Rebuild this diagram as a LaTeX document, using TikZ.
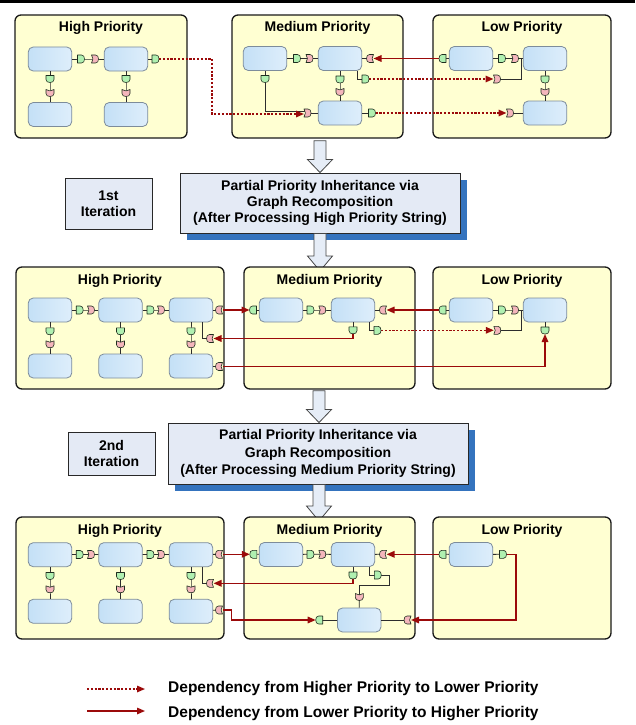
\documentclass[tikz,border=0pt]{standalone}
\usepackage{fontspec}
\setmainfont{Liberation Sans}
\usetikzlibrary{arrows.meta,calc,shadows}
\pgfdeclarelayer{ports}
\pgfsetlayers{main,ports}
\definecolor{panelfill}{RGB}{255,255,210}
\definecolor{panelborder}{RGB}{25,25,25}
\definecolor{taskL}{RGB}{196,224,246}
\definecolor{taskR}{RGB}{222,238,251}
\definecolor{taskborder}{RGB}{125,140,155}
\definecolor{gfill}{RGB}{176,240,176}
\definecolor{pfill}{RGB}{244,182,188}
\definecolor{portborder}{RGB}{30,45,30}
\definecolor{wirecol}{RGB}{45,45,45}
\definecolor{depred}{RGB}{155,10,10}
\definecolor{procfill}{RGB}{228,234,245}
\definecolor{procborder}{RGB}{40,40,40}
\definecolor{shadowblue}{RGB}{52,115,190}
\definecolor{arrowfill}{RGB}{230,237,247}
\definecolor{arrowborder}{RGB}{70,70,70}
\tikzset{
  gsty/.style={draw=portborder, fill=gfill, line width=0.6pt, line join=round},
  psty/.style={draw=portborder, fill=pfill, line width=0.6pt, line join=round},
  gR/.pic={\path[gsty] (-3.5pt,4pt) -- (0.5pt,4pt) .. controls (2.6pt,4pt) and (3.5pt,2.2pt) .. (3.5pt,0pt) .. controls (3.5pt,-2.2pt) and (2.6pt,-4pt) .. (0.5pt,-4pt) -- (-3.5pt,-4pt) -- cycle;},
  gL/.pic={\path[gsty,xscale=-1] (-3.5pt,4pt) -- (0.5pt,4pt) .. controls (2.6pt,4pt) and (3.5pt,2.2pt) .. (3.5pt,0pt) .. controls (3.5pt,-2.2pt) and (2.6pt,-4pt) .. (0.5pt,-4pt) -- (-3.5pt,-4pt) -- cycle;},
  gD/.pic={\path[gsty] (-4pt,3.5pt) -- (-4pt,-0.5pt) .. controls (-4pt,-2.6pt) and (-2.2pt,-3.5pt) .. (0pt,-3.5pt) .. controls (2.2pt,-3.5pt) and (4pt,-2.6pt) .. (4pt,-0.5pt) -- (4pt,3.5pt) -- cycle;},
  pR/.pic={\path[psty] (-3.5pt,4pt) -- (0.5pt,4pt) .. controls (2.6pt,4pt) and (3.5pt,2.2pt) .. (3.5pt,0pt) .. controls (3.5pt,-2.2pt) and (2.6pt,-4pt) .. (0.5pt,-4pt) -- (-3.5pt,-4pt) .. controls (-1.6pt,-1.8pt) and (-1.6pt,1.8pt) .. (-3.5pt,4pt) -- cycle;},
  pL/.pic={\path[psty,xscale=-1] (-3.5pt,4pt) -- (0.5pt,4pt) .. controls (2.6pt,4pt) and (3.5pt,2.2pt) .. (3.5pt,0pt) .. controls (3.5pt,-2.2pt) and (2.6pt,-4pt) .. (0.5pt,-4pt) -- (-3.5pt,-4pt) .. controls (-1.6pt,-1.8pt) and (-1.6pt,1.8pt) .. (-3.5pt,4pt) -- cycle;},
  pD/.pic={\path[psty] (4pt,3.5pt) -- (4pt,-0.5pt) .. controls (4pt,-2.6pt) and (2.2pt,-3.5pt) .. (0pt,-3.5pt) .. controls (-2.2pt,-3.5pt) and (-4pt,-2.6pt) .. (-4pt,-0.5pt) -- (-4pt,3.5pt) .. controls (-1.8pt,1.6pt) and (1.8pt,1.6pt) .. (4pt,3.5pt) -- cycle;},
  hp/.style={inner sep=0pt, outer sep=0pt, minimum width=7pt, minimum height=8pt},
  vp/.style={inner sep=0pt, outer sep=0pt, minimum width=8pt, minimum height=7pt},
  panel/.style={draw=panelborder, line width=1.3pt, fill=panelfill, rounded corners=6pt, inner sep=0pt},
  ptitle/.style={font=\bfseries\fontsize{14}{16}\selectfont, anchor=base, inner sep=0pt},
  task/.style={draw=taskborder, line width=0.8pt, rounded corners=5pt, left color=taskL, right color=taskR, minimum width=43.5pt, minimum height=24pt, inner sep=0pt},
  wire/.style={draw=wirecol, line width=0.8pt},
  dep/.style={draw=depred, line width=1.5pt, -{Triangle[length=8pt,width=6.5pt]}},
  depdot/.style={dep, dash pattern=on 2.2pt off 1.6pt},
  proc/.style={draw=procborder, line width=0.9pt, fill=procfill, align=center, inner sep=0pt,
     drop shadow={shadow xshift=7pt, shadow yshift=-7pt, fill=shadowblue, opacity=1}},
  iter/.style={draw=procborder, line width=0.9pt, fill=procfill, align=center, inner sep=0pt,
     font=\bfseries\fontsize{14}{16}\selectfont},
  bigarrow/.style={draw=arrowborder, fill=arrowfill, line width=0.8pt, line join=miter},
  legtext/.style={font=\bfseries\fontsize{15.5}{18}\selectfont, inner sep=0pt, anchor=base west},
}
\newcommand{\hport}[3]{\node[hp] (#1) at (#2) {};\begin{pgfonlayer}{ports}\pic at (#1) {#3};\end{pgfonlayer}}
\newcommand{\vport}[3]{\node[vp] (#1) at (#2) {};\begin{pgfonlayer}{ports}\pic at (#1) {#3};\end{pgfonlayer}}
\begin{document}
\begin{tikzpicture}[x=1pt,y=-1pt]
\useasboundingbox (0,0) rectangle (635,725);
\fill[black] (0,0) rectangle (635,3);

% ================= Row 1 =================
\node[panel, minimum width=172pt, minimum height=123pt] (H1) at (101,76.5) {};
\node[panel, minimum width=171pt, minimum height=123pt] (M1) at (317.5,76.5) {};
\node[panel, minimum width=178pt, minimum height=123pt] (L1) at (522,76.5) {};
\node[ptitle] (H1t) at (101,31.7) {High Priority};
\node[ptitle] (M1t) at (317.5,31.7) {Medium Priority};
\node[ptitle] (L1t) at (522,31.7) {Low Priority};

\node[task] (H1a) at (50,59) {};
\node[task] (H1b) at (126,59) {};
\node[task] (H1c) at (50,114.5) {};
\node[task] (H1d) at (126,114.5) {};
\node[task] (M1a) at (265,58.5) {};
\node[task] (M1b) at (340,58.5) {};
\node[task] (M1c) at (340,113) {};
\node[task] (L1a) at (471,58.5) {};
\node[task] (L1b) at (545,58.5) {};
\node[task] (L1c) at (545,113) {};

\hport{h1g1}{81,59}{gR} \hport{h1p1}{95,59}{pR}
\vport{h1g2}{50,79}{gD} \vport{h1p2}{50,93}{pD}
\vport{h1g3}{126,79}{gD} \vport{h1p3}{126,93}{pD}
\hport{h1g4}{155.5,59}{gR}

\hport{m1g1}{297,58.5}{gR} \hport{m1p1}{309.5,58.5}{pR}
\vport{m1g2}{265,79}{gD}
\vport{m1g3}{340,79.5}{gD} \vport{m1p3}{340,92}{pD}
\hport{m1p4}{370,58.5}{pL}
\hport{m1g5}{365.5,79}{gR}
\hport{m1p6}{307.5,113}{pR}
\hport{m1g7}{372,113}{gR}

\hport{l1g1}{442.5,58.5}{gL}
\hport{l1g2}{502,58.5}{gR} \hport{l1p2}{515,58.5}{pR}
\hport{l1p3}{497,79}{pR}
\vport{l1g4}{545,79.5}{gD} \vport{l1p4}{545,92}{pD}
\hport{l1p5}{510,113}{pR}

\draw[wire] (H1a) -- (h1g1.center) -- (h1p1.center) -- (H1b);
\draw[wire] (H1a) -- (h1g2.center) -- (h1p2.center) -- (H1c);
\draw[wire] (H1b) -- (h1g3.center) -- (h1p3.center) -- (H1d);
\draw[wire] (H1b) -- (h1g4.center);
\draw[wire] (M1a) -- (m1g1.center) -- (m1p1.center) -- (M1b);
\draw[wire] (M1a) -- (m1g2.center);
\draw[wire] (m1g2.center) |- ($(m1p6.center)+(0,-1.5)$);
\draw[wire] (M1b) -- (m1g3.center) -- (m1p3.center) -- (M1c);
\draw[wire] (M1b) -- (m1p4.center);
\draw[wire] ($(M1b.south east)+(-4.5,0)$) |- (m1g5.center);
\draw[wire] (m1p6.center) -- (M1c);
\draw[wire] (M1c) -- (m1g7.center);
\draw[wire] (L1a) -- (l1g1.center);
\draw[wire] (L1a) -- (l1g2.center) -- (l1p2.center) -- (L1b);
\draw[wire] (l1p3.center) -| ($(L1b.west)+(-1.75,0)$);
\draw[wire] (L1b) -- (l1g4.center) -- (l1p4.center) -- (L1c);
\draw[wire] (l1p5.center) -- (L1c);

\draw[depdot] (h1g4.east) -- ++(53,0) |- ($(m1p6.west)+(0,1)$);
\draw[dep] (l1g1.west) -- (m1p4.east);
\draw[depdot] (m1g5.east) -- (l1p3.west);
\draw[depdot] (m1g7.east) -- (l1p5.west);

% ================= Process 1 =================
\node[proc, minimum width=280pt, minimum height=60pt, font=\bfseries\fontsize{14}{16.4}\selectfont] (P1) at (320,203) {Partial Priority Inheritance via\\Graph Recomposition\\(After Processing High Priority String)};
\node[iter, minimum width=87pt, minimum height=51pt] (I1) at (108.5,203.5) {1st\\Iteration};
\draw[bigarrow] ($(P1.north |- M1.south)+(-6,2)$) -- ++(12,0) -- ($(P1.north)+(6,-13)$) -- ++(6.5,0) -- (P1.north) -- ($(P1.north)+(-12.5,-13)$) -- ++(6.5,0) -- cycle;
\coordinate (a2) at (320,271);
\draw[bigarrow] ($(P1.south)+(-6,0)$) -- ++(12,0) -- ($(a2)+(6,-15)$) -- ++(6.5,0) -- (a2) -- ($(a2)+(-12.5,-15)$) -- ++(6.5,0) -- cycle;

% ================= Row 2 =================
\node[panel, minimum width=208pt, minimum height=122pt] (H2) at (120,328) {};
\node[panel, minimum width=171pt, minimum height=122pt] (M2) at (329.5,328) {};
\node[panel, minimum width=178pt, minimum height=122pt] (L2) at (522,328) {};
\node[ptitle] (H2t) at (120,284) {High Priority};
\node[ptitle] (M2t) at (329.5,284) {Medium Priority};
\node[ptitle] (L2t) at (522,284) {Low Priority};

\node[task] (H2a) at (50,310) {};
\node[task] (H2b) at (120.5,310) {};
\node[task] (H2c) at (191,310) {};
\node[task] (H2d) at (50,366) {};
\node[task] (H2e) at (120.5,366) {};
\node[task] (H2f) at (191,366) {};
\node[task] (M2a) at (281,310) {};
\node[task] (M2b) at (353,310) {};
\node[task] (L2a) at (471,310) {};
\node[task] (L2b) at (545,310) {};

\hport{h2g1}{79.7,310}{gR} \hport{h2p1}{91,310}{pR}
\hport{h2g2}{150.5,310}{gR} \hport{h2p2}{161,310}{pR}
\vport{h2g3}{50,331.3}{gD} \vport{h2p3}{50,344.3}{pD}
\vport{h2g4}{120.5,331.3}{gD} \vport{h2p4}{120.5,344.3}{pD}
\vport{h2g5}{191,331.3}{gD} \vport{h2p5}{191,344.3}{pD}
\hport{h2p6}{219,310}{pL}
\hport{h2p7}{210,338.5}{pL}
\hport{h2p8}{219,366.5}{pL}

\hport{m2g1}{253,310}{gL}
\hport{m2g2}{310.5,310}{gR} \hport{m2p2}{322.3,310}{pR}
\hport{m2p3}{383,310}{pL}
\vport{m2g4}{353,330.3}{gD}
\hport{m2g5}{377.5,330.3}{gR}

\hport{l2g1}{442.5,310}{gL}
\hport{l2g2}{502,310}{gR} \hport{l2p2}{515,310}{pR}
\hport{l2p3}{497.3,330.3}{pR}
\vport{l2g4}{545,330.5}{gD}

\draw[wire] (H2a) -- (h2g1.center) -- (h2p1.center) -- (H2b);
\draw[wire] (H2b) -- (h2g2.center) -- (h2p2.center) -- (H2c);
\draw[wire] (H2a) -- (h2g3.center) -- (h2p3.center) -- (H2d);
\draw[wire] (H2b) -- (h2g4.center) -- (h2p4.center) -- (H2e);
\draw[wire] (H2c) -- (h2g5.center) -- (h2p5.center) -- (H2f);
\draw[wire] (H2c) -- (h2p6.center);
\draw[wire] ($(H2c.south east)+(-11,0)$) |- (h2p7.center);
\draw[wire] (H2f) -- (h2p8.center);
\draw[wire] (M2a) -- (m2g1.center);
\draw[wire] (M2a) -- (m2g2.center) -- (m2p2.center) -- (M2b);
\draw[wire] (M2b) -- (m2p3.center);
\draw[wire] (M2b) -- (m2g4.center);
\draw[wire] ($(M2b.south east)+(-5.75,0)$) |- (m2g5.center);
\draw[wire] (L2a) -- (l2g1.center);
\draw[wire] (L2a) -- (l2g2.center) -- (l2p2.center) -- (L2b);
\draw[wire] (l2p3.center) -| ($(L2b.west)+(-1.75,0)$);
\draw[wire] (L2b) -- (l2g4.center);

\draw[dep] (h2p6.east) -- (m2g1.west);
\draw[dep] (m2g4.south) |- (h2p7.east);
\draw[dep] (h2p8.east) -| (l2g4.south);
\draw[dep] (l2g1.west) -- (m2p3.east);
\draw[depdot] (m2g5.east) -- (l2p3.west);

% ================= Process 2 =================
\node[proc, minimum width=300pt, minimum height=61pt, font=\bfseries\fontsize{14}{17.3}\selectfont] (P2) at (318,453.5) {Partial Priority Inheritance via\\Graph Recomposition\\(After Processing Medium Priority String)};
\node[iter, minimum width=87pt, minimum height=43pt] (I2) at (111.5,453.5) {2nd\\Iteration};
\draw[bigarrow] ($(P2.north |- M2.south)+(-5,1)$) -- ++(12,0) -- ($(P2.north)+(7,-13)$) -- ++(6.5,0) -- ($(P2.north)+(1,0)$) -- ($(P2.north)+(-11.5,-13)$) -- ++(6.5,0) -- cycle;
\coordinate (a4) at (319,521);
\draw[bigarrow] ($(P2.south)+(-5,0)$) -- ++(12,0) -- ($(a4)+(6,-15)$) -- ++(6.5,0) -- (a4) -- ($(a4)+(-12.5,-15)$) -- ++(6.5,0) -- cycle;

% ================= Row 3 =================
\node[panel, minimum width=208pt, minimum height=122pt] (H3) at (120,578) {};
\node[panel, minimum width=171pt, minimum height=122pt] (M3) at (329.5,578) {};
\node[panel, minimum width=178pt, minimum height=122pt] (L3) at (522,578) {};
\node[ptitle] (H3t) at (120,534) {High Priority};
\node[ptitle] (M3t) at (329.5,534) {Medium Priority};
\node[ptitle] (L3t) at (522,534) {Low Priority};

\node[task] (H3a) at (50,554.7) {};
\node[task] (H3b) at (120.5,554.7) {};
\node[task] (H3c) at (191,554.7) {};
\node[task] (H3d) at (50,611.3) {};
\node[task] (H3e) at (120.5,611.3) {};
\node[task] (H3f) at (191,611.3) {};
\node[task] (M3a) at (281,554.5) {};
\node[task] (M3b) at (353,554.5) {};
\node[task] (M3c) at (359.2,620) {};
\node[task] (L3a) at (471,554.5) {};

\hport{h3g1}{79.7,554.5}{gR} \hport{h3p1}{91,554.5}{pR}
\hport{h3g2}{150.5,554.5}{gR} \hport{h3p2}{161,554.5}{pR}
\vport{h3g3}{50,576}{gD} \vport{h3p3}{50,589.3}{pD}
\vport{h3g4}{120.5,576}{gD} \vport{h3p4}{120.5,589.3}{pD}
\vport{h3g5}{191,576}{gD} \vport{h3p5}{191,589.3}{pD}
\hport{h3p6}{219,554.3}{pL}
\hport{h3p7}{210,583.3}{pL}
\hport{h3p8}{219,610}{pL}

\hport{m3g1}{253.3,554.3}{gL}
\hport{m3g2}{310.5,554.3}{gR} \hport{m3p2}{322.3,554.3}{pR}
\hport{m3p3}{383,554.3}{pL}
\vport{m3g4}{353,575.5}{gD}
\hport{m3g5}{377.8,575}{gR}
\vport{m3p6}{359.3,597}{pD}
\hport{m3g7}{319.2,620}{gL}
\hport{m3p8}{407.5,620}{pL}

\hport{l3g1}{442.5,554.3}{gL}
\hport{l3g2}{503,554.3}{gR}

\draw[wire] (H3a) -- (h3g1.center) -- (h3p1.center) -- (H3b);
\draw[wire] (H3b) -- (h3g2.center) -- (h3p2.center) -- (H3c);
\draw[wire] (H3a) -- (h3g3.center) -- (h3p3.center) -- (H3d);
\draw[wire] (H3b) -- (h3g4.center) -- (h3p4.center) -- (H3e);
\draw[wire] (H3c) -- (h3g5.center) -- (h3p5.center) -- (H3f);
\draw[wire] (H3c) -- (h3p6.center);
\draw[wire] ($(H3c.south east)+(-11,0)$) |- (h3p7.center);
\draw[wire] (H3f) -- (h3p8.center);
\draw[wire] (M3a) -- (m3g1.center);
\draw[wire] (M3a) -- (m3g2.center) -- (m3p2.center) -- (M3b);
\draw[wire] (M3b) -- (m3p3.center);
\draw[wire] (M3b) -- (m3g4.center);
\draw[wire] ($(M3b.south east)+(-5.75,0)$) |- (m3g5.center);
\draw[wire] (m3g5.center) -| ++(11.5,10) -| (m3p6.center);
\draw[wire] (m3p6.center) -- (M3c);
\draw[wire] (m3g7.center) -- (M3c);
\draw[wire] (M3c) -- (m3p8.center);
\draw[wire] (L3a) -- (l3g1.center);
\draw[wire] (L3a) -- (l3g2.center);

\draw[dep] (h3p6.east) -- (m3g1.west);
\draw[dep] (m3g4.south) |- (h3p7.east);
\draw[dep] (h3p8.east) -- ++(9.2,0) |- (m3g7.west);
\draw[dep] (l3g1.west) -- (m3p3.east);
\draw[dep] (l3g2.east) -- ++(9.5,0) |- (m3p8.east);

% ================= Legend =================
\coordinate (lg1s) at (87,689);
\coordinate (lg1e) at (145,689);
\coordinate (lg2s) at (87,711);
\coordinate (lg2e) at (145,711);
\draw[depdot] (lg1s) -- (lg1e);
\draw[dep] (lg2s) -- (lg2e);
\node[legtext] (lt1) at (168,692.5) {Dependency from Higher Priority to Lower Priority};
\node[legtext] (lt2) at (168,717.3) {Dependency from Lower Priority to Higher Priority};
\end{tikzpicture}
\end{document}
